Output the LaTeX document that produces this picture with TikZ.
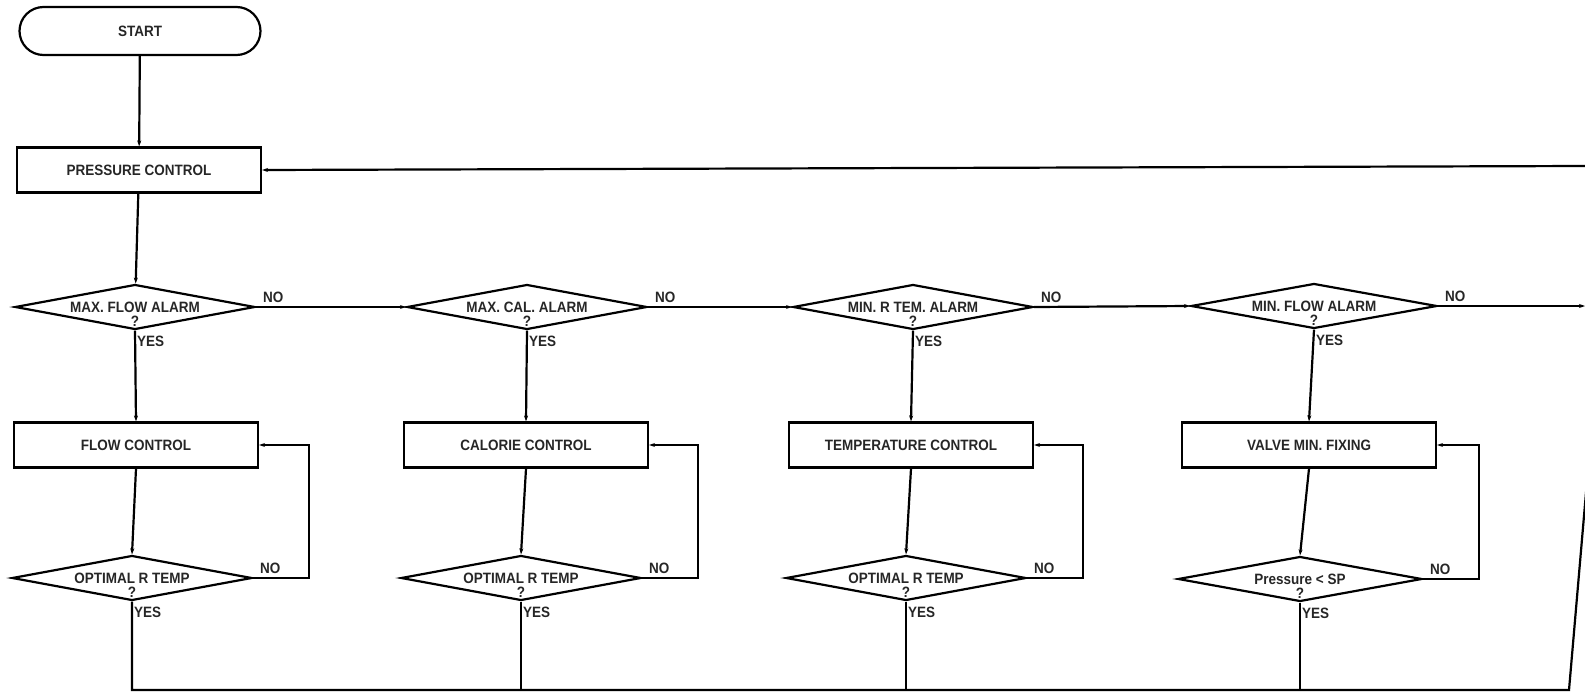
\documentclass[tikz,border=0pt]{standalone}
\usepackage{fontspec}
\newfontfamily\diafont[FakeStretch=0.9]{Liberation Sans}
\usetikzlibrary{shapes.geometric, arrows.meta}

\tikzset{
  txt/.style={font=\diafont\bfseries\fontsize{15}{17}\selectfont, text=black!85},
  terminal/.style={txt, draw, rectangle, rounded corners=24pt, minimum width=241pt, minimum height=48pt, inner sep=0pt},
  box/.style={txt, draw, rectangle, minimum width=244pt, minimum height=45pt, inner sep=0pt},
  decision/.style={txt, draw, diamond, aspect=5.3, minimum width=240pt, minimum height=45pt, inner sep=0pt,
    label={[txt, anchor=south, inner sep=0pt, yshift=3pt]south:?},
    label={[txt, anchor=north west, inner sep=1pt, yshift=-3pt]south:YES},
    label={[txt, anchor=south west, inner sep=1pt, xshift=5pt, yshift=2pt]east:NO}}
}

\begin{document}
\begin{tikzpicture}[x=1pt, y=-1pt, line width=2.2pt, >={Stealth[length=6pt, width=4pt]}]
    \clip (0,0) rectangle (1585,693);

    %% top
    \node[terminal] (start) at (140,31) {START};
    \node[box] (press) at (139,170) {PRESSURE CONTROL};
    \draw[->] (start) -- (press);

    %% columns
    % 1. flow
    \begin{scope}[xshift=0pt]
      \node[decision] (alarm1) at (135,307) {MAX. FLOW ALARM};
      \node[box] (ctrl1) at (136,445) {FLOW CONTROL};
      \node[decision] (check1) at (132,578) {OPTIMAL R TEMP};
    \end{scope}

    % 2. calorie
    \begin{scope}[xshift=0pt]
      \node[decision] (alarm2) at (527,307) {MAX. CAL. ALARM};
      \node[box] (ctrl2) at (526,445) {CALORIE CONTROL};
      \node[decision] (check2) at (521,578) {OPTIMAL R TEMP};
    \end{scope}

    % 3. temperature
    \begin{scope}[xshift=0pt]
      \node[decision] (alarm3) at (913,307) {MIN. R TEM. ALARM};
      \node[box] (ctrl3) at (911,445) {TEMPERATURE CONTROL};
      \node[decision] (check3) at (906,578) {OPTIMAL R TEMP};
    \end{scope}

    % 4. valve
    \begin{scope}[xshift=0pt]
      \node[decision, minimum width=246pt] (alarm4) at (1314,306) {MIN. FLOW ALARM};
      \node[box, minimum width=254pt] (ctrl4) at (1309,445) {VALVE MIN. FIXING};
      \node[decision, minimum width=244pt] (check4) at (1300,579) {Pressure < SP};
    \end{scope}

    %% connectors
    \draw[->] (press) -- (alarm1);
    \foreach \i/\j in {1/2, 2/3, 3/4} {
      \draw[->] (alarm\i.east) -- (alarm\j.west);
    }
    \foreach \i in {1,...,4} {
      \draw[->] (alarm\i.south) -- (ctrl\i.north);
      \draw[->] (ctrl\i.south) -- (check\i.north);
      \draw[->] (check\i.east) -- ++(56,0) |- (ctrl\i.east);
    }

    % return lines
    \coordinate (rb) at (1569,690);
    \coordinate (rt) at (1600,330);
    \coordinate (nr) at (1585,306);
    \coordinate (tr) at (1585,166);
    \draw (check1.south) |- (rb) -- (rt);
    \foreach \i in {2,3,4} {
      \draw (check\i.south) -- (check\i.south |- rb);
    }
    \draw[->] (alarm4.east) -- (nr);
    \draw[->] (tr) -- (press.east);

  \end{tikzpicture}
\end{document}
